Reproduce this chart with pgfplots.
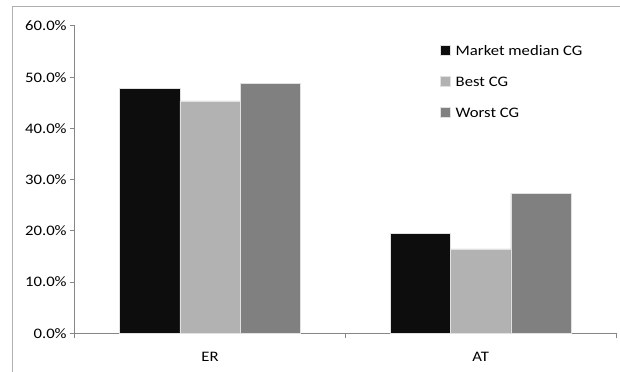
\documentclass[border=0pt]{standalone}
\usepackage{fontspec}
\setmainfont{Carlito}[FakeStretch=1.15]
\usepackage{pgfplots}
\pgfplotsset{compat=1.18}
\definecolor{axgray}{RGB}{134,134,134}
\definecolor{framegray}{RGB}{175,175,175}
\definecolor{cA}{RGB}{13,13,13}
\definecolor{cB}{RGB}{178,178,178}
\definecolor{cC}{RGB}{128,128,128}
\definecolor{edge}{RGB}{225,225,225}
\begin{document}
\fontsize{14.5bp}{17bp}\selectfont
\begin{tikzpicture}
\useasboundingbox (-74.7bp,-38.7bp) rectangle (545.3bp,333.3bp);
\begin{scope}
\clip (-74.7bp,-38.7bp) rectangle (545.3bp,333.3bp);
\draw[framegray, line width=1bp] (-61.7bp,-60bp) -- (-61.7bp,326.3bp) -- (560bp,326.3bp);
\end{scope}
\begin{axis}[
  at={(0bp,0bp)}, anchor=south west,
  scale only axis, width=541.3bp, height=307.3bp,
  xmin=0, xmax=2, ymin=0, ymax=60,
  axis lines=left,
  axis line style={-, draw=axgray, line width=1bp},
  tick style={draw=axgray, line width=1bp},
  tick align=outside, major tick length=5bp,
  ytick={0,10,20,30,40,50,60},
  yticklabels={0.0\%,10.0\%,20.0\%,30.0\%,40.0\%,50.0\%,60.0\%},
  yticklabel style={xshift=2bp},
  xtick={0,1,2}, xticklabels={},
  extra x ticks={0.5,1.5}, extra x tick labels={ER,AT},
  extra x tick style={major tick length=0pt, tick style={draw=none}, xticklabel style={yshift=-14bp}},
  ybar=0pt, bar width=60.3bp,
  every axis plot/.append style={draw=edge, line width=0.5bp},
  legend image code/.code={\fill[#1] (0bp,0bp) rectangle (10bp,10bp);},
  legend style={at={(0.6749,0.9382)}, anchor=north west, draw=none, fill=none,
    inner sep=0pt, column sep=5bp, row sep=20.5bp,
    nodes={inner sep=0pt, text height=10bp, text depth=0pt, anchor=base west}},
  legend cell align=left,
]
\addplot[fill=cA] coordinates {(0.5,47.8) (1.5,19.5)};
\addplot[fill=cB] coordinates {(0.5,45.4) (1.5,16.5)};
\addplot[fill=cC] coordinates {(0.5,48.8) (1.5,27.3)};
\legend{Market median CG, Best CG, Worst CG}
\end{axis}
\end{tikzpicture}
\end{document}
